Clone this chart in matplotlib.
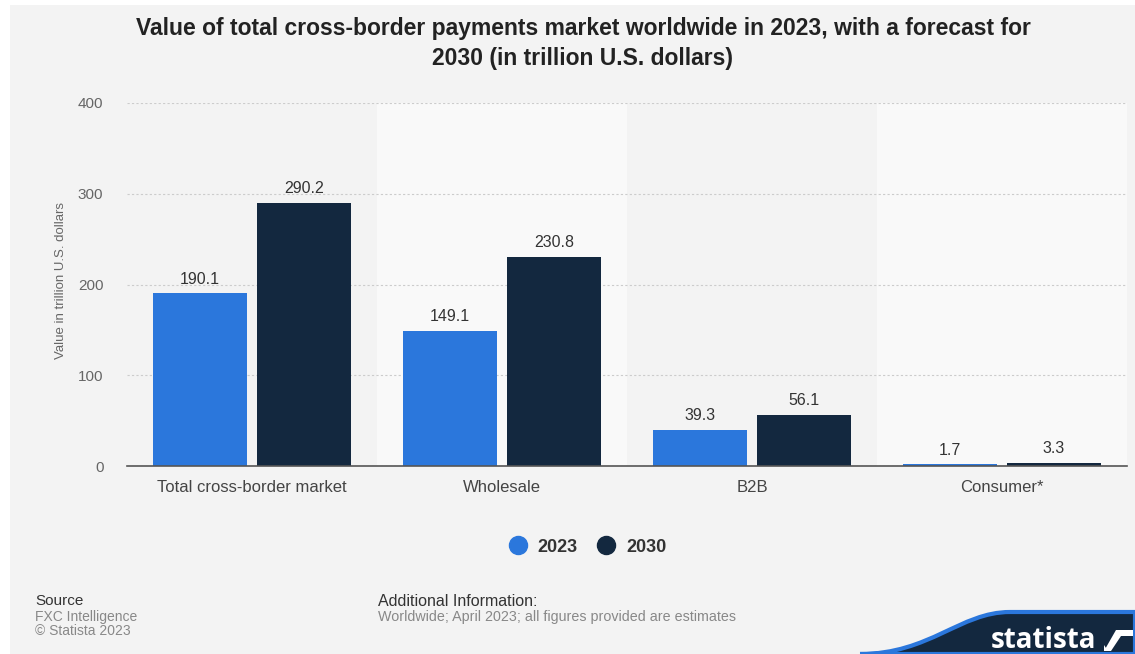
import matplotlib.pyplot as plt
import matplotlib.patches as mpatches
from matplotlib.path import Path
import numpy as np

plt.rcParams['font.family'] = ['Liberation Sans', 'DejaVu Sans']

# data
categories = ["Total cross-border market", "Wholesale", "B2B", "Consumer*"]
values_2023 = [190.1, 149.1, 39.3, 1.7]
values_2030 = [290.2, 230.8, 56.1, 3.3]
series_names = ["2023", "2030"]
y_ticks = [0, 100, 200, 300, 400]

blue = "#2b77dc"
navy = "#13283f"
panel = "#f3f3f3"
band = "#f9f9f9"

W, H = 1135, 654
fig = plt.figure(figsize=(W / 100, H / 100), dpi=100)
fig.patch.set_facecolor("white")

# background panel (pixel coordinates)
bg = fig.add_axes([0, 0, 1, 1], zorder=-5)
bg.set_xlim(0, W)
bg.set_ylim(H, 0)
bg.axis("off")
bg.add_patch(mpatches.Rectangle((10, 5), W - 10, H - 5, color=panel, lw=0))

ax = fig.add_axes([127 / W, 188 / H, 1000 / W, 363 / H])
ax.set_facecolor("none")

x = np.arange(len(categories))
bw = 0.376
gap = 0.04
for i in x:
    if i % 2 == 1:
        ax.axvspan(i - 0.5, i + 0.5, color=band, lw=0, zorder=0)

b1 = ax.bar(x - (bw + gap) / 2, values_2023, bw, color=blue, zorder=3, label=series_names[0])
b2 = ax.bar(x + (bw + gap) / 2, values_2030, bw, color=navy, zorder=3, label=series_names[1])

for bars, vals in ((b1, values_2023), (b2, values_2030)):
    for rect, v in zip(bars, vals):
        ax.annotate(f"{v:.1f}", (rect.get_x() + rect.get_width() / 2, v),
                    xytext=(0, 5), textcoords="offset points",
                    ha="center", va="bottom", fontsize=11.5, color="#333333")

ax.set_xlim(-0.5, len(categories) - 0.5)
ax.set_ylim(0, 400)
ax.set_yticks(y_ticks)
ax.set_yticklabels([str(t) for t in y_ticks], fontsize=11, color="#666666")
ax.set_xticks(x)
ax.set_xticklabels(categories, fontsize=12, color="#444444")
ax.tick_params(axis="both", length=0)
ax.tick_params(axis="y", pad=17)
ax.tick_params(axis="x", pad=10)
ax.grid(axis="y", color="#cccccc", linestyle=(0, (2, 2)), lw=0.8, zorder=1)
for s in ("top", "right", "left"):
    ax.spines[s].set_visible(False)
ax.spines["bottom"].set_color("#555555")
ax.spines["bottom"].set_linewidth(1.2)
ax.spines["bottom"].set_zorder(4)

ax.set_ylabel("Value in trillion U.S. dollars", fontsize=9.5, color="#666666")
ax.yaxis.set_label_coords(-0.06, 0.51)

# title
title_kw = dict(ha="center", va="center", fontsize=16.5, fontweight="bold", color="#222222")
fig.text(583 / W, 1 - 28 / H,
         "Value of total cross-border payments market worldwide in 2023, with a forecast for", **title_kw)
fig.text(583 / W, 1 - 58 / H, "2030 (in trillion U.S. dollars)", **title_kw)

# legend
leg = fig.legend(handles=[
    plt.Line2D([], [], marker="o", ls="", color=blue, markersize=13),
    plt.Line2D([], [], marker="o", ls="", color=navy, markersize=13)],
    labels=series_names, loc="center", bbox_to_anchor=(583 / W, 1 - 547 / H),
    ncol=2, frameon=False, handletextpad=0.1, columnspacing=0.6,
    prop={"weight": "bold", "size": 13})
for t in leg.get_texts():
    t.set_color("#333333")

# footer
fig.text(35 / W, 1 - 601 / H, "Source", fontsize=11, color="#333333", va="center")
fig.text(35 / W, 1 - 617 / H, "FXC Intelligence", fontsize=10, color="#888888", va="center")
fig.text(35 / W, 1 - 631 / H, "\u00a9 Statista 2023", fontsize=10, color="#888888", va="center")
fig.text(378 / W, 1 - 601 / H, "Additional Information:", fontsize=11.5, color="#333333", va="center")
fig.text(378 / W, 1 - 617 / H, "Worldwide; April 2023; all figures provided are estimates",
         fontsize=10.3, color="#888888", va="center")

# statista badge
lg = fig.add_axes([0, 0, 1, 1], zorder=10)
lg.set_xlim(0, W)
lg.set_ylim(H, 0)
lg.axis("off")
verts = [(860, H), (930, H), (960, 612), (1010, 612), (W, 612), (W, H), (860, H)]
codes = [Path.MOVETO, Path.CURVE4, Path.CURVE4, Path.CURVE4, Path.LINETO, Path.LINETO, Path.CLOSEPOLY]
lg.add_patch(mpatches.PathPatch(Path(verts, codes), facecolor=navy, edgecolor=blue, lw=3))
lg.text(1044, 640, "statista", ha="center", va="center", fontsize=20, fontweight="bold",
        color="white", family=["Open Sans", "DejaVu Sans"])
lg.add_patch(mpatches.Polygon([(1104, 651), (1116, 630), (1133, 630), (1133, 636), (1121, 636),
                               (1111, 651)], color="white", lw=0))
lg.add_patch(mpatches.Polygon([(1104, 645), (1104, 651), (1108, 651)], color="white", lw=0))

fig.savefig("out.png", dpi=100, facecolor=fig.get_facecolor())
